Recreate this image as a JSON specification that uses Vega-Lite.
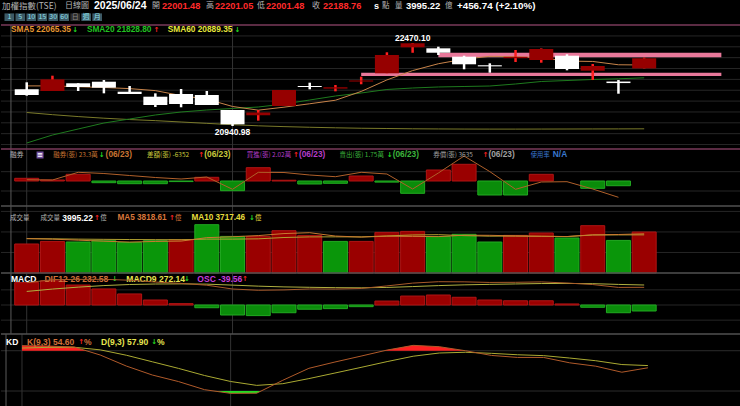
{
"$schema":"https://vega.github.io/schema/vega-lite/v6.json",
"background":"#000000",
"padding":0,
"spacing":0,
"bounds":"flush",
"config":{"view":{"stroke":null},"axis":{"disable":true},"legend":{"disable":true},"text":{"font":"Liberation Sans"},"concat":{"spacing":0}},
"datasets":{
"d":[
{"i":0,"o":21617,"h":21746,"l":21500,"c":21512,"chg":40,"s5":21680,"s20":20628,"s60":21190,"mb":3645,"ml":1755,"v":2826,"vm5":3350,"vm10":3350,"osc":148,"dif":310.8,"dea":162.8,"k":87.5,"dd":84.0},
{"i":1,"o":21586,"h":21868,"l":21586,"c":21801,"chg":289,"s5":21680,"s20":20775,"s60":21150,"mb":1350,"ml":1350,"v":3079,"vm5":3300,"vm10":3330,"osc":160,"dif":362.8,"dea":202.8,"k":87,"dd":85.0},
{"i":2,"o":21728,"h":21728,"l":21586,"c":21660,"chg":-141,"s5":21665,"s20":20886,"s60":21115,"mb":9045,"ml":11745,"v":3021,"vm5":3200,"vm10":3300,"osc":132,"dif":367.8,"dea":235.8,"k":85.5,"dd":85.2},
{"i":3,"o":21757,"h":21788,"l":21543,"c":21647,"chg":-13,"s5":21650,"s20":20996,"s60":21085,"mb":-2295,"ml":10125,"v":3147,"vm5":3100,"vm10":3280,"osc":106,"dif":368.3,"dea":262.3,"k":73.6,"dd":81.3},
{"i":4,"o":21573,"h":21678,"l":21531,"c":21531,"chg":-116,"s5":21630,"s20":21070,"s60":21060,"mb":-3645,"ml":7425,"v":2982,"vm5":3011,"vm10":3260,"osc":73,"dif":353.5,"dea":280.5,"k":57.2,"dd":73.3},
{"i":5,"o":21481,"h":21543,"l":21291,"c":21328,"chg":-203,"s5":21593,"s20":21144,"s60":21040,"mb":-3645,"ml":4725,"v":3147,"vm5":3075,"vm10":3250,"osc":33,"dif":321.8,"dea":288.8,"k":43.8,"dd":63.5},
{"i":6,"o":21531,"h":21623,"l":21286,"c":21346,"chg":18,"s5":21502,"s20":21199,"s60":21015,"mb":-800,"ml":2700,"v":3245,"vm5":3108,"vm10":3240,"osc":9,"dif":300,"dea":291,"k":34.1,"dd":53.7},
{"i":7,"o":21512,"h":21586,"l":21328,"c":21328,"chg":-18,"s5":21436,"s20":21236,"s60":20990,"mb":4995,"ml":5400,"v":4706,"vm5":3445,"vm10":3300,"osc":-18,"dif":268.5,"dea":286.5,"k":22,"dd":43.1},
{"i":8,"o":21236,"h":21236,"l":20940.98,"c":20972,"chg":-356,"s5":21301,"s20":21264,"s60":20965,"mb":-13095,"ml":-11205,"v":3566,"vm5":3529,"vm10":3300,"osc":-66,"dif":204,"dea":270,"k":16.5,"dd":34.2},
{"i":9,"o":21140,"h":21236,"l":21040,"c":21190,"chg":218,"s5":21233,"s20":21291,"s60":20945,"mb":17955,"ml":11745,"v":3566,"vm5":3646,"vm10":3329,"osc":-70,"dif":182.5,"dea":252.5,"k":16.8,"dd":28.4},
{"i":10,"o":21310,"h":21604,"l":21310,"c":21604,"chg":414,"s5":21288,"s20":21346,"s60":20930,"mb":1000,"ml":11475,"v":4122,"vm5":3841,"vm10":3458,"osc":-51,"dif":188.8,"dea":239.8,"k":36,"dd":30.9},
{"i":11,"o":21678,"h":21739,"l":21617,"c":21660,"chg":56,"s5":21351,"s20":21420,"s60":20918,"mb":-4050,"ml":8100,"v":3664,"vm5":3925,"vm10":3517,"osc":-28,"dif":204.8,"dea":232.8,"k":53.8,"dd":38.5},
{"i":12,"o":21630,"h":21696,"l":21580,"c":21655,"chg":-5,"s5":21416,"s20":21494,"s60":20908,"mb":-3105,"ml":5805,"v":3079,"vm5":3599,"vm10":3522,"osc":-24,"dif":202.8,"dea":226.8,"k":63.2,"dd":46.8},
{"i":13,"o":21760,"h":21850,"l":21710,"c":21780,"chg":125,"s5":21578,"s20":21549,"s60":20900,"mb":6750,"ml":11745,"v":3079,"vm5":3502,"vm10":3516,"osc":-11,"dif":213,"dea":224,"k":72,"dd":55.2},
{"i":14,"o":21912,"h":22299,"l":21912,"c":22249,"chg":469,"s5":21790,"s20":21614,"s60":20895,"mb":-1500,"ml":9450,"v":3956,"vm5":3580,"vm10":3613,"osc":26,"dif":256.5,"dea":230.5,"k":81,"dd":63.8},
{"i":15,"o":22391,"h":22470.1,"l":22290,"c":22465,"chg":216,"s5":21962,"s20":21641,"s60":20890,"mb":-16605,"ml":-10800,"v":4053,"vm5":3566,"vm10":3704,"osc":59,"dif":304.3,"dea":245.3,"k":88,"dd":71.8},
{"i":16,"o":22372,"h":22402,"l":22249,"c":22291,"chg":-174,"s5":22088,"s20":21660,"s60":20887,"mb":14850,"ml":10800,"v":3560,"vm5":3545,"vm10":3735,"osc":66,"dif":327.8,"dea":261.8,"k":86,"dd":76.6},
{"i":17,"o":22218,"h":22236,"l":21986,"c":22078,"chg":-213,"s5":22173,"s20":21669,"s60":20885,"mb":22545,"ml":33750,"v":3770,"vm5":3684,"vm10":3642,"osc":51,"dif":325.5,"dea":274.5,"k":80,"dd":77.7},
{"i":18,"o":22060,"h":22096,"l":21923,"c":22040,"chg":-38,"s5":22225,"s20":21678,"s60":20884,"mb":-18900,"ml":12690,"v":3020,"vm5":3672,"vm10":3587,"osc":33,"dif":315.8,"dea":282.8,"k":73,"dd":76.1},
{"i":19,"o":22190,"h":22341,"l":22120,"c":22215,"chg":175,"s5":22218,"s20":21715,"s60":20884,"mb":-18900,"ml":-11205,"v":3664,"vm5":3613,"vm10":3597,"osc":28,"dif":317.8,"dea":289.8,"k":70,"dd":74.0},
{"i":20,"o":22157,"h":22370,"l":22107,"c":22360,"chg":145,"s5":22197,"s20":21761,"s60":20885,"mb":9045,"ml":-1350,"v":3898,"vm5":3582,"vm10":3574,"osc":28,"dif":324.8,"dea":296.8,"k":70,"dd":72.7},
{"i":21,"o":22236,"h":22262,"l":21967,"c":21991,"chg":-369,"s5":22137,"s20":21779,"s60":20886,"mb":0,"ml":-945,"v":3410,"vm5":3552,"vm10":3549,"osc":7,"dif":305.5,"dea":298.5,"k":62,"dd":69.1},
{"i":22,"o":21960,"h":22083,"l":21788,"c":22046,"chg":55,"s5":22130,"s20":21798,"s60":20887,"mb":-9855,"ml":-10800,"v":4609,"vm5":3720,"vm10":3702,"osc":-15,"dif":279.8,"dea":294.8,"k":57,"dd":65.1},
{"i":23,"o":21760,"h":21788,"l":21536,"c":21732.02,"chg":-314,"s5":22069,"s20":21811,"s60":20888,"mb":-6352,"ml":-22005,"v":3177,"vm5":3752,"vm10":3712,"osc":-51,"dif":231,"dea":282,"k":48,"dd":59.4},
{"i":24,"o":22001.48,"h":22201.05,"l":22001.48,"c":22188.76,"chg":456.74,"s5":22065.35,"s20":21828.8,"s60":20889.35,"mb":null,"ml":null,"v":3995.22,"vm5":3818.61,"vm10":3717.46,"osc":-39.56,"dif":232.58,"dea":272.14,"k":54.6,"dd":57.9}
],
"kred":[{"g":"a","i":0,"k":87.5},{"g":"a","i":1,"k":87},{"g":"a","i":2,"k":85.5},{"g":"a","i":2.46,"k":80},{"g":"b","i":13.9,"k":80},{"g":"b","i":14,"k":81},{"g":"b","i":15,"k":88},{"g":"b","i":16,"k":86},{"g":"b","i":17,"k":80}],
"kgreen":[{"i":7.36,"k":20},{"i":8,"k":16.5},{"i":9,"k":16.8},{"i":9.17,"k":20}],
"vgrid":[{"i":0},{"i":8}]
},
"vconcat":[
{"width":740,"height":13,"data":{"values":[{}]},
"layer":[
{"mark":{"type":"text","align":"left","baseline":"middle","font":"Noto Sans CJK TC","fontSize":8.5,"color":"#b4b4b4"},"encoding":{"x":{"datum":1,"type":"quantitative","scale":{"domain":[0,740],"nice":false,"zero":false}},"y":{"datum":6,"type":"quantitative","scale":{"domain":[0,13],"reverse":true,"nice":false,"zero":false}},"text":{"value":"加權指數(TSE)"}}},
{"mark":{"type":"text","align":"left","baseline":"middle","font":"Noto Sans CJK TC","fontSize":8,"color":"#b4b4b4"},"encoding":{"x":{"datum":64,"type":"quantitative"},"y":{"datum":6,"type":"quantitative"},"text":{"value":"日線圖"}}},
{"mark":{"type":"text","align":"left","baseline":"middle","fontSize":10.5,"fontWeight":"bold","color":"#ffffff"},"encoding":{"x":{"datum":93,"type":"quantitative"},"y":{"datum":6,"type":"quantitative"},"text":{"value":"2025/06/24"}}},
{"mark":{"type":"text","align":"left","baseline":"middle","font":"Noto Sans CJK TC","fontSize":8,"color":"#b4b4b4"},"encoding":{"x":{"datum":151,"type":"quantitative"},"y":{"datum":6,"type":"quantitative"},"text":{"value":"開"}}},
{"mark":{"type":"text","align":"left","baseline":"middle","fontSize":9.2,"fontWeight":"bold","color":"#ff2a2a"},"encoding":{"x":{"datum":161,"type":"quantitative"},"y":{"datum":6,"type":"quantitative"},"text":{"value":"22001.48"}}},
{"mark":{"type":"text","align":"left","baseline":"middle","font":"Noto Sans CJK TC","fontSize":8,"color":"#b4b4b4"},"encoding":{"x":{"datum":205,"type":"quantitative"},"y":{"datum":6,"type":"quantitative"},"text":{"value":"高"}}},
{"mark":{"type":"text","align":"left","baseline":"middle","fontSize":9.2,"fontWeight":"bold","color":"#ff2a2a"},"encoding":{"x":{"datum":214,"type":"quantitative"},"y":{"datum":6,"type":"quantitative"},"text":{"value":"22201.05"}}},
{"mark":{"type":"text","align":"left","baseline":"middle","font":"Noto Sans CJK TC","fontSize":8,"color":"#b4b4b4"},"encoding":{"x":{"datum":256,"type":"quantitative"},"y":{"datum":6,"type":"quantitative"},"text":{"value":"低"}}},
{"mark":{"type":"text","align":"left","baseline":"middle","fontSize":9.2,"fontWeight":"bold","color":"#ff2a2a"},"encoding":{"x":{"datum":265,"type":"quantitative"},"y":{"datum":6,"type":"quantitative"},"text":{"value":"22001.48"}}},
{"mark":{"type":"text","align":"left","baseline":"middle","font":"Noto Sans CJK TC","fontSize":8,"color":"#b4b4b4"},"encoding":{"x":{"datum":311,"type":"quantitative"},"y":{"datum":6,"type":"quantitative"},"text":{"value":"收"}}},
{"mark":{"type":"text","align":"left","baseline":"middle","fontSize":9.2,"fontWeight":"bold","color":"#ff2a2a"},"encoding":{"x":{"datum":322,"type":"quantitative"},"y":{"datum":6,"type":"quantitative"},"text":{"value":"22188.76"}}},
{"mark":{"type":"text","align":"left","baseline":"middle","fontSize":9,"fontWeight":"bold","color":"#ffffff"},"encoding":{"x":{"datum":373,"type":"quantitative"},"y":{"datum":6,"type":"quantitative"},"text":{"value":"s"}}},
{"mark":{"type":"text","align":"left","baseline":"middle","font":"Noto Sans CJK TC","fontSize":7.5,"color":"#b4b4b4"},"encoding":{"x":{"datum":381,"type":"quantitative"},"y":{"datum":6,"type":"quantitative"},"text":{"value":"點"}}},
{"mark":{"type":"text","align":"left","baseline":"middle","font":"Noto Sans CJK TC","fontSize":7.5,"color":"#b4b4b4"},"encoding":{"x":{"datum":394,"type":"quantitative"},"y":{"datum":6,"type":"quantitative"},"text":{"value":"量"}}},
{"mark":{"type":"text","align":"left","baseline":"middle","fontSize":9.5,"fontWeight":"bold","color":"#ffffff"},"encoding":{"x":{"datum":405,"type":"quantitative"},"y":{"datum":6,"type":"quantitative"},"text":{"value":"3995.22"}}},
{"mark":{"type":"text","align":"left","baseline":"middle","font":"Noto Sans CJK TC","fontSize":7.5,"color":"#b4b4b4"},"encoding":{"x":{"datum":444,"type":"quantitative"},"y":{"datum":6,"type":"quantitative"},"text":{"value":"億"}}},
{"mark":{"type":"text","align":"left","baseline":"middle","fontSize":9.8,"fontWeight":"bold","color":"#ffffff"},"encoding":{"x":{"datum":456,"type":"quantitative"},"y":{"datum":6,"type":"quantitative"},"text":{"value":"+456.74 (+2.10%)"}}}
]},
{"width":101,"height":12,
"data":{"values":[{"b":"1"},{"b":"5"},{"b":"10"},{"b":"15"},{"b":"30"},{"b":"60"},{"b":"日"},{"b":"週"},{"b":"月"}]},
"layer":[
{"mark":{"type":"rect"},"encoding":{"x":{"field":"b","type":"ordinal","sort":null,"scale":{"domain":["1","5","10","15","30","60","日","週","月"],"range":[3.5,101],"paddingInner":0.12,"paddingOuter":0}},"y":{"datum":0.4,"type":"quantitative","scale":{"domain":[0,12],"reverse":true,"nice":false,"zero":false}},"y2":{"datum":8},"color":{"condition":{"test":"datum.b==='日'","value":"#2e2e2e"},"value":"#3c5a66"}}},
{"mark":{"type":"text","baseline":"middle","fontSize":7,"font":"Noto Sans CJK TC"},"encoding":{"x":{"field":"b","type":"ordinal","sort":null},"y":{"datum":4.2,"type":"quantitative"},"text":{"field":"b"},"color":{"condition":{"test":"datum.b==='日'","value":"#8a8a8a"},"value":"#8fe0ee"}}}
]},
{"width":740,"height":124,"data":{"name":"d"},
"layer":[
{"data":{"values":[{"g":20600},{"g":20800},{"g":21000},{"g":21200},{"g":21400},{"g":21600},{"g":21800},{"g":22000},{"g":22200},{"g":22400},{"g":22600}]},"mark":{"type":"rule","color":"#262626"},"encoding":{"y":{"field":"g","type":"quantitative","scale":{"domain":[20517.6,22801.7],"nice":false,"zero":false}}}},
{"data":{"name":"vgrid"},"mark":{"type":"rule","color":"#333333"},"encoding":{"x":{"field":"i","type":"quantitative","scale":{"domain":[-0.8052,27.569],"nice":false,"zero":false}}}},
{"data":{"values":[{}]},"mark":{"type":"rule","color":"#5a5a5a"},"encoding":{"x":{"datum":-0.613,"type":"quantitative"}}},
{"data":{"values":[{}]},"mark":{"type":"rule","color":"#7a3a5a","strokeWidth":1.5},"encoding":{"y":{"datum":22801.7,"type":"quantitative"}}},
{"data":{"values":[{"i":13,"i2":27,"lo":21862,"hi":21923},{"i":16,"i2":27,"lo":22207,"hi":22291}]},"mark":{"type":"rect","color":"#e8789a"},"encoding":{"x":{"field":"i","type":"quantitative"},"x2":{"field":"i2"},"y":{"field":"lo","type":"quantitative"},"y2":{"field":"hi"}}},
{"mark":{"type":"line","color":"#7a7a2a","strokeWidth":1},"encoding":{"x":{"field":"i","type":"quantitative"},"y":{"field":"s60","type":"quantitative"}}},
{"mark":{"type":"line","color":"#1e7a1e","strokeWidth":1},"encoding":{"x":{"field":"i","type":"quantitative"},"y":{"field":"s20","type":"quantitative"}}},
{"mark":{"type":"line","color":"#c8844a","strokeWidth":1},"encoding":{"x":{"field":"i","type":"quantitative"},"y":{"field":"s5","type":"quantitative"}}},
{"mark":{"type":"rule","strokeWidth":2.5},"encoding":{"x":{"field":"i","type":"quantitative"},"y":{"field":"l","type":"quantitative"},"y2":{"field":"h"},"color":{"condition":{"test":"datum.c>=datum.o","value":"#ff2020"},"value":"#ffffff"}}},
{"mark":{"type":"bar","size":24},"encoding":{"x":{"field":"i","type":"quantitative"},"y":{"field":"o","type":"quantitative"},"y2":{"field":"c"},"color":{"condition":{"test":"datum.c>=datum.o","value":"#960000"},"value":"#ffffff"}}},
{"transform":[{"filter":"datum.i===15"}],"mark":{"type":"text","dy":-5,"fontSize":8.5,"fontWeight":"bold","color":"#ffffff"},"encoding":{"x":{"field":"i","type":"quantitative"},"y":{"field":"h","type":"quantitative"},"text":{"value":"22470.10"}}},
{"transform":[{"filter":"datum.i===8"}],"mark":{"type":"text","dy":6,"fontSize":8.5,"fontWeight":"bold","color":"#ffffff"},"encoding":{"x":{"field":"i","type":"quantitative"},"y":{"field":"l","type":"quantitative"},"text":{"value":"20940.98"}}},
{"data":{"values":[{}]},"mark":{"type":"text","align":"left","baseline":"middle","fontSize":8.3,"fontWeight":"bold","color":"#e69632"},"encoding":{"x":{"datum":-0.613,"type":"quantitative"},"y":{"datum":22709,"type":"quantitative"},"text":{"value":"SMA5 22065.35"}}},
{"data":{"values":[{}]},"mark":{"type":"text","align":"left","baseline":"middle","fontSize":7,"fontWeight":"bold","font":"DejaVu Sans","color":"#22dd22"},"encoding":{"x":{"datum":1.77,"type":"quantitative"},"y":{"datum":22709,"type":"quantitative"},"text":{"value":"↓"}}},
{"data":{"values":[{}]},"mark":{"type":"text","align":"left","baseline":"middle","fontSize":8.3,"fontWeight":"bold","color":"#22c022"},"encoding":{"x":{"datum":2.339,"type":"quantitative"},"y":{"datum":22709,"type":"quantitative"},"text":{"value":"SMA20 21828.80"}}},
{"data":{"values":[{}]},"mark":{"type":"text","align":"left","baseline":"middle","fontSize":7,"fontWeight":"bold","font":"DejaVu Sans","color":"#ff2222"},"encoding":{"x":{"datum":4.93,"type":"quantitative"},"y":{"datum":22709,"type":"quantitative"},"text":{"value":"↑"}}},
{"data":{"values":[{}]},"mark":{"type":"text","align":"left","baseline":"middle","fontSize":8.3,"fontWeight":"bold","color":"#e6e63c"},"encoding":{"x":{"datum":5.483,"type":"quantitative"},"y":{"datum":22709,"type":"quantitative"},"text":{"value":"SMA60 20889.35"}}},
{"data":{"values":[{}]},"mark":{"type":"text","align":"left","baseline":"middle","fontSize":7,"fontWeight":"bold","font":"DejaVu Sans","color":"#22dd22"},"encoding":{"x":{"datum":8.08,"type":"quantitative"},"y":{"datum":22709,"type":"quantitative"},"text":{"value":"↓"}}}
]},
{"width":740,"height":57,"data":{"name":"d"},
"layer":[
{"data":{"values":[{"g":12600},{"g":-13500}]},"mark":{"type":"rule","color":"#262626"},"encoding":{"y":{"field":"g","type":"quantitative","scale":{"domain":[-33750,43200],"nice":false,"zero":false}}}},
{"data":{"name":"vgrid"},"mark":{"type":"rule","color":"#333333"},"encoding":{"x":{"field":"i","type":"quantitative","scale":{"domain":[-0.8052,27.569],"nice":false,"zero":false}}}},
{"data":{"values":[{}]},"mark":{"type":"rule","color":"#5a5a5a"},"encoding":{"x":{"datum":-0.613,"type":"quantitative"}}},
{"data":{"values":[{}]},"mark":{"type":"rule","color":"#7a3a5a","strokeWidth":1.5},"encoding":{"y":{"datum":43200,"type":"quantitative"}}},
{"transform":[{"filter":"datum.mb!=null && datum.mb!==0"}],"mark":{"type":"bar","size":24,"strokeWidth":1},"encoding":{"x":{"field":"i","type":"quantitative"},"y":{"field":"mb","type":"quantitative"},"color":{"condition":{"test":"datum.mb>=0","value":"#9a0000"},"value":"#0a8c0a"},"stroke":{"condition":{"test":"datum.mb>=0","value":"#b01414"},"value":"#22aa22"}}},
{"mark":{"type":"line","color":"#b0602a","strokeWidth":1},"encoding":{"x":{"field":"i","type":"quantitative"},"y":{"field":"ml","type":"quantitative"}}},
{"data":{"values":[{}]},"mark":{"type":"text","align":"left","baseline":"middle","font":"Noto Sans CJK TC","fontSize":6.8,"color":"#b4b4b4"},"encoding":{"x":{"datum":-0.652,"type":"quantitative"},"y":{"datum":35100,"type":"quantitative"},"text":{"value":"融券"}}},
{"data":{"values":[{}]},"mark":{"type":"point","shape":"square","size":49,"filled":true,"color":"#a070e0"},"encoding":{"x":{"datum":0.518,"type":"quantitative"},"y":{"datum":35100,"type":"quantitative"}}},
{"data":{"values":[{}]},"mark":{"type":"text","baseline":"middle","fontSize":7,"fontWeight":"bold","color":"#ffffff","font":"DejaVu Sans"},"encoding":{"x":{"datum":0.518,"type":"quantitative"},"y":{"datum":35100,"type":"quantitative"},"text":{"value":"≡"}}},
{"data":{"values":[{}]},"mark":{"type":"text","align":"left","baseline":"middle","font":"Noto Sans CJK TC","fontSize":6.5,"color":"#c87533"},"encoding":{"x":{"datum":1.035,"type":"quantitative"},"y":{"datum":35100,"type":"quantitative"},"text":{"value":"融券(張) 23.3萬"}}},
{"data":{"values":[{}]},"mark":{"type":"text","align":"left","baseline":"middle","fontSize":7,"fontWeight":"bold","font":"DejaVu Sans","color":"#22dd22"},"encoding":{"x":{"datum":2.8,"type":"quantitative"},"y":{"datum":35100,"type":"quantitative"},"text":{"value":"↓"}}},
{"data":{"values":[{}]},"mark":{"type":"text","align":"left","baseline":"middle","fontSize":8.3,"fontWeight":"bold","color":"#c87533"},"encoding":{"x":{"datum":3.067,"type":"quantitative"},"y":{"datum":35100,"type":"quantitative"},"text":{"value":"(06/23)"}}},
{"data":{"values":[{}]},"mark":{"type":"text","align":"left","baseline":"middle","font":"Noto Sans CJK TC","fontSize":6.5,"color":"#c8c83c"},"encoding":{"x":{"datum":4.678,"type":"quantitative"},"y":{"datum":35100,"type":"quantitative"},"text":{"value":"差額(張) -6352"}}},
{"data":{"values":[{}]},"mark":{"type":"text","align":"left","baseline":"middle","fontSize":7,"fontWeight":"bold","font":"DejaVu Sans","color":"#ff2222"},"encoding":{"x":{"datum":6.672,"type":"quantitative"},"y":{"datum":35100,"type":"quantitative"},"text":{"value":"↑"}}},
{"data":{"values":[{}]},"mark":{"type":"text","align":"left","baseline":"middle","fontSize":8.3,"fontWeight":"bold","color":"#c8c83c"},"encoding":{"x":{"datum":6.902,"type":"quantitative"},"y":{"datum":35100,"type":"quantitative"},"text":{"value":"(06/23)"}}},
{"data":{"values":[{}]},"mark":{"type":"text","align":"left","baseline":"middle","font":"Noto Sans CJK TC","fontSize":6.5,"color":"#b43cc8"},"encoding":{"x":{"datum":8.551,"type":"quantitative"},"y":{"datum":35100,"type":"quantitative"},"text":{"value":"買進(張) 2.02萬"}}},
{"data":{"values":[{}]},"mark":{"type":"text","align":"left","baseline":"middle","fontSize":7,"fontWeight":"bold","font":"DejaVu Sans","color":"#ff2222"},"encoding":{"x":{"datum":10.353,"type":"quantitative"},"y":{"datum":35100,"type":"quantitative"},"text":{"value":"↑"}}},
{"data":{"values":[{}]},"mark":{"type":"text","align":"left","baseline":"middle","fontSize":8.3,"fontWeight":"bold","color":"#b43cc8"},"encoding":{"x":{"datum":10.583,"type":"quantitative"},"y":{"datum":35100,"type":"quantitative"},"text":{"value":"(06/23)"}}},
{"data":{"values":[{}]},"mark":{"type":"text","align":"left","baseline":"middle","font":"Noto Sans CJK TC","fontSize":6.5,"color":"#3cb43c"},"encoding":{"x":{"datum":12.155,"type":"quantitative"},"y":{"datum":35100,"type":"quantitative"},"text":{"value":"賣出(張) 1.75萬"}}},
{"data":{"values":[{}]},"mark":{"type":"text","align":"left","baseline":"middle","fontSize":7,"fontWeight":"bold","font":"DejaVu Sans","color":"#22dd22"},"encoding":{"x":{"datum":13.995,"type":"quantitative"},"y":{"datum":35100,"type":"quantitative"},"text":{"value":"↓"}}},
{"data":{"values":[{}]},"mark":{"type":"text","align":"left","baseline":"middle","fontSize":8.3,"fontWeight":"bold","color":"#3cb43c"},"encoding":{"x":{"datum":14.225,"type":"quantitative"},"y":{"datum":35100,"type":"quantitative"},"text":{"value":"(06/23)"}}},
{"data":{"values":[{}]},"mark":{"type":"text","align":"left","baseline":"middle","font":"Noto Sans CJK TC","fontSize":6.5,"color":"#a0a0a0"},"encoding":{"x":{"datum":15.798,"type":"quantitative"},"y":{"datum":35100,"type":"quantitative"},"text":{"value":"券償(張) 3635"}}},
{"data":{"values":[{}]},"mark":{"type":"text","align":"left","baseline":"middle","fontSize":7,"fontWeight":"bold","font":"DejaVu Sans","color":"#ff2222"},"encoding":{"x":{"datum":17.715,"type":"quantitative"},"y":{"datum":35100,"type":"quantitative"},"text":{"value":"↑"}}},
{"data":{"values":[{}]},"mark":{"type":"text","align":"left","baseline":"middle","fontSize":8.3,"fontWeight":"bold","color":"#a0a0a0"},"encoding":{"x":{"datum":17.945,"type":"quantitative"},"y":{"datum":35100,"type":"quantitative"},"text":{"value":"(06/23)"}}},
{"data":{"values":[{}]},"mark":{"type":"text","align":"left","baseline":"middle","font":"Noto Sans CJK TC","fontSize":6.3,"color":"#3a78d0"},"encoding":{"x":{"datum":19.594,"type":"quantitative"},"y":{"datum":35100,"type":"quantitative"},"text":{"value":"使用率"}}},
{"data":{"values":[{}]},"mark":{"type":"text","align":"left","baseline":"middle","fontSize":8.3,"fontWeight":"bold","color":"#3a78d0"},"encoding":{"x":{"datum":20.45,"type":"quantitative"},"y":{"datum":35100,"type":"quantitative"},"text":{"value":"N/A"}}}
]},
{"width":740,"height":67,"data":{"name":"d"},
"layer":[
{"data":{"values":[{"g":2000},{"g":4000},{"g":6000}]},"mark":{"type":"rule","color":"#262626"},"encoding":{"y":{"field":"g","type":"quantitative","scale":{"domain":[0,6528],"nice":false,"zero":false}}}},
{"data":{"name":"vgrid"},"mark":{"type":"rule","color":"#333333"},"encoding":{"x":{"field":"i","type":"quantitative","scale":{"domain":[-0.8052,27.569],"nice":false,"zero":false}}}},
{"data":{"values":[{}]},"mark":{"type":"rule","color":"#5a5a5a"},"encoding":{"x":{"datum":-0.613,"type":"quantitative"}}},
{"data":{"values":[{}]},"mark":{"type":"rule","color":"#505050","strokeWidth":1.5},"encoding":{"y":{"datum":6528,"type":"quantitative"}}},
{"mark":{"type":"bar","size":24,"strokeWidth":1},"encoding":{"x":{"field":"i","type":"quantitative"},"y":{"field":"v","type":"quantitative"},"color":{"condition":{"test":"datum.chg>=0","value":"#9a0000"},"value":"#0a960a"},"stroke":{"condition":{"test":"datum.chg>=0","value":"#b01414"},"value":"#22aa22"}}},
{"mark":{"type":"line","color":"#b0a030","strokeWidth":1},"encoding":{"x":{"field":"i","type":"quantitative"},"y":{"field":"vm10","type":"quantitative"}}},
{"mark":{"type":"line","color":"#c87a30","strokeWidth":1},"encoding":{"x":{"field":"i","type":"quantitative"},"y":{"field":"vm5","type":"quantitative"}}},
{"data":{"values":[{}]},"mark":{"type":"text","align":"left","baseline":"middle","font":"Noto Sans CJK TC","fontSize":6.5,"color":"#b4b4b4"},"encoding":{"x":{"datum":-0.652,"type":"quantitative"},"y":{"datum":5388,"type":"quantitative"},"text":{"value":"成交量"}}},
{"data":{"values":[{}]},"mark":{"type":"text","align":"left","baseline":"middle","font":"Noto Sans CJK TC","fontSize":6.5,"color":"#b4b4b4"},"encoding":{"x":{"datum":0.537,"type":"quantitative"},"y":{"datum":5388,"type":"quantitative"},"text":{"value":"成交量"}}},
{"data":{"values":[{}]},"mark":{"type":"text","align":"left","baseline":"middle","fontSize":8.5,"fontWeight":"bold","color":"#ffffff"},"encoding":{"x":{"datum":1.38,"type":"quantitative"},"y":{"datum":5388,"type":"quantitative"},"text":{"value":"3995.22"}}},
{"data":{"values":[{}]},"mark":{"type":"text","align":"left","baseline":"middle","fontSize":7,"fontWeight":"bold","font":"DejaVu Sans","color":"#ff2222"},"encoding":{"x":{"datum":2.62,"type":"quantitative"},"y":{"datum":5388,"type":"quantitative"},"text":{"value":"↑"}}},
{"data":{"values":[{}]},"mark":{"type":"text","align":"left","baseline":"middle","font":"Noto Sans CJK TC","fontSize":6.5,"color":"#b4b4b4"},"encoding":{"x":{"datum":2.86,"type":"quantitative"},"y":{"datum":5388,"type":"quantitative"},"text":{"value":"億"}}},
{"data":{"values":[{}]},"mark":{"type":"text","align":"left","baseline":"middle","fontSize":8.2,"fontWeight":"bold","color":"#d8763a"},"encoding":{"x":{"datum":3.528,"type":"quantitative"},"y":{"datum":5388,"type":"quantitative"},"text":{"value":"MA5 3818.61"}}},
{"data":{"values":[{}]},"mark":{"type":"text","align":"left","baseline":"middle","fontSize":7,"fontWeight":"bold","font":"DejaVu Sans","color":"#ff2222"},"encoding":{"x":{"datum":5.53,"type":"quantitative"},"y":{"datum":5388,"type":"quantitative"},"text":{"value":"↑"}}},
{"data":{"values":[{}]},"mark":{"type":"text","align":"left","baseline":"middle","font":"Noto Sans CJK TC","fontSize":6.5,"color":"#d8763a"},"encoding":{"x":{"datum":5.76,"type":"quantitative"},"y":{"datum":5388,"type":"quantitative"},"text":{"value":"億"}}},
{"data":{"values":[{}]},"mark":{"type":"text","align":"left","baseline":"middle","fontSize":8.2,"fontWeight":"bold","color":"#e6dc3c"},"encoding":{"x":{"datum":6.403,"type":"quantitative"},"y":{"datum":5388,"type":"quantitative"},"text":{"value":"MA10 3717.46"}}},
{"data":{"values":[{}]},"mark":{"type":"text","align":"left","baseline":"middle","fontSize":7,"fontWeight":"bold","font":"DejaVu Sans","color":"#22dd22"},"encoding":{"x":{"datum":8.64,"type":"quantitative"},"y":{"datum":5388,"type":"quantitative"},"text":{"value":"↓"}}},
{"data":{"values":[{}]},"mark":{"type":"text","align":"left","baseline":"middle","font":"Noto Sans CJK TC","fontSize":6.5,"color":"#e6dc3c"},"encoding":{"x":{"datum":8.87,"type":"quantitative"},"y":{"datum":5388,"type":"quantitative"},"text":{"value":"億"}}}
]},
{"width":740,"height":61,"data":{"name":"d"},
"resolve":{"scale":{"y":"independent"}},
"layer":[
{"layer":[
{"data":{"values":[{"g":-100},{"g":0},{"g":100}]},"mark":{"type":"rule","color":"#262626"},"encoding":{"y":{"field":"g","type":"quantitative","scale":{"domain":[-191.4,211.2],"nice":false,"zero":false}}}},
{"data":{"name":"vgrid"},"mark":{"type":"rule","color":"#333333"},"encoding":{"x":{"field":"i","type":"quantitative","scale":{"domain":[-0.8052,27.569],"nice":false,"zero":false}}}},
{"data":{"values":[{}]},"mark":{"type":"rule","color":"#5a5a5a"},"encoding":{"x":{"datum":-0.613,"type":"quantitative"}}},
{"data":{"values":[{}]},"mark":{"type":"rule","color":"#505050","strokeWidth":1.5},"encoding":{"y":{"datum":211.2,"type":"quantitative"}}},
{"mark":{"type":"bar","size":24,"strokeWidth":1},"encoding":{"x":{"field":"i","type":"quantitative"},"y":{"field":"osc","type":"quantitative"},"color":{"condition":{"test":"datum.osc>=0","value":"#9a0000"},"value":"#0a8c0a"},"stroke":{"condition":{"test":"datum.osc>=0","value":"#b01414"},"value":"#22aa22"}}},
{"data":{"values":[{}]},"mark":{"type":"text","align":"left","baseline":"middle","fontSize":8.5,"fontWeight":"bold","color":"#ffffff"},"encoding":{"x":{"datum":-0.613,"type":"quantitative"},"y":{"datum":169.6,"type":"quantitative"},"text":{"value":"MACD"}}},
{"data":{"values":[{}]},"mark":{"type":"text","align":"left","baseline":"middle","fontSize":8.5,"fontWeight":"bold","color":"#d0703a"},"encoding":{"x":{"datum":0.69,"type":"quantitative"},"y":{"datum":169.6,"type":"quantitative"},"text":{"value":"DIF12-26 232.58"}}},
{"data":{"values":[{}]},"mark":{"type":"text","align":"left","baseline":"middle","fontSize":7,"fontWeight":"bold","font":"DejaVu Sans","color":"#22dd22"},"encoding":{"x":{"datum":3.31,"type":"quantitative"},"y":{"datum":169.6,"type":"quantitative"},"text":{"value":"↓"}}},
{"data":{"values":[{}]},"mark":{"type":"text","align":"left","baseline":"middle","fontSize":8.5,"fontWeight":"bold","color":"#e6e650"},"encoding":{"x":{"datum":3.873,"type":"quantitative"},"y":{"datum":169.6,"type":"quantitative"},"text":{"value":"MACD9 272.14"}}},
{"data":{"values":[{}]},"mark":{"type":"text","align":"left","baseline":"middle","fontSize":7,"fontWeight":"bold","font":"DejaVu Sans","color":"#22dd22"},"encoding":{"x":{"datum":6.11,"type":"quantitative"},"y":{"datum":169.6,"type":"quantitative"},"text":{"value":"↓"}}},
{"data":{"values":[{}]},"mark":{"type":"text","align":"left","baseline":"middle","fontSize":8.5,"fontWeight":"bold","color":"#c83cdc"},"encoding":{"x":{"datum":6.633,"type":"quantitative"},"y":{"datum":169.6,"type":"quantitative"},"text":{"value":"OSC -39.56"}}},
{"data":{"values":[{}]},"mark":{"type":"text","align":"left","baseline":"middle","fontSize":7,"fontWeight":"bold","font":"DejaVu Sans","color":"#ff2222"},"encoding":{"x":{"datum":8.37,"type":"quantitative"},"y":{"datum":169.6,"type":"quantitative"},"text":{"value":"↑"}}}
]},
{"layer":[
{"mark":{"type":"line","color":"#b0b040","strokeWidth":1},"encoding":{"x":{"field":"i","type":"quantitative"},"y":{"field":"dea","type":"quantitative","scale":{"domain":[-561,476],"nice":false,"zero":false}}}},
{"mark":{"type":"line","color":"#a85a2a","strokeWidth":1},"encoding":{"x":{"field":"i","type":"quantitative"},"y":{"field":"dif","type":"quantitative"}}}
]}
]},
{"width":740,"height":72,"data":{"name":"d"},
"layer":[
{"data":{"values":[{"g":20},{"g":80}]},"mark":{"type":"rule","color":"#2c2c2c"},"encoding":{"y":{"field":"g","type":"quantitative","scale":{"domain":[-2.3,104.9],"nice":false,"zero":false}}}},
{"data":{"name":"vgrid"},"mark":{"type":"rule","color":"#333333"},"encoding":{"x":{"field":"i","type":"quantitative","scale":{"domain":[-0.8052,27.569],"nice":false,"zero":false}}}},
{"data":{"values":[{}]},"mark":{"type":"rule","color":"#5a5a5a"},"encoding":{"x":{"datum":-0.613,"type":"quantitative"}}},
{"data":{"values":[{}]},"mark":{"type":"rule","color":"#505050","strokeWidth":1.5},"encoding":{"y":{"datum":104.9,"type":"quantitative"}}},
{"data":{"name":"kred"},"mark":{"type":"area","color":"#ff2020"},"encoding":{"x":{"field":"i","type":"quantitative"},"y":{"field":"k","type":"quantitative"},"y2":{"datum":80},"detail":{"field":"g"}}},
{"data":{"name":"kgreen"},"mark":{"type":"area","color":"#22dd22"},"encoding":{"x":{"field":"i","type":"quantitative"},"y":{"field":"k","type":"quantitative"},"y2":{"datum":20}}},
{"mark":{"type":"line","color":"#aaaa32","strokeWidth":1},"encoding":{"x":{"field":"i","type":"quantitative"},"y":{"field":"dd","type":"quantitative"}}},
{"mark":{"type":"line","color":"#b05a2a","strokeWidth":1},"encoding":{"x":{"field":"i","type":"quantitative"},"y":{"field":"k","type":"quantitative"}}},
{"data":{"values":[{}]},"mark":{"type":"text","align":"left","baseline":"middle","fontSize":8.5,"fontWeight":"bold","color":"#ffffff"},"encoding":{"x":{"datum":-0.613,"type":"quantitative"},"y":{"datum":93.4,"type":"quantitative"},"text":{"value":"KD"}}},
{"data":{"values":[{}]},"mark":{"type":"text","align":"left","baseline":"middle","fontSize":8.5,"fontWeight":"bold","color":"#d0703a"},"encoding":{"x":{"datum":0.192,"type":"quantitative"},"y":{"datum":93.4,"type":"quantitative"},"text":{"value":"K(9,3) 54.60"}}},
{"data":{"values":[{}]},"mark":{"type":"text","align":"left","baseline":"middle","fontSize":7,"fontWeight":"bold","font":"DejaVu Sans","color":"#ff2222"},"encoding":{"x":{"datum":2.16,"type":"quantitative"},"y":{"datum":93.4,"type":"quantitative"},"text":{"value":"↑"}}},
{"data":{"values":[{}]},"mark":{"type":"text","align":"left","baseline":"middle","fontSize":8.5,"fontWeight":"bold","color":"#d0703a"},"encoding":{"x":{"datum":2.38,"type":"quantitative"},"y":{"datum":93.4,"type":"quantitative"},"text":{"value":"%"}}},
{"data":{"values":[{}]},"mark":{"type":"text","align":"left","baseline":"middle","fontSize":8.5,"fontWeight":"bold","color":"#e6e650"},"encoding":{"x":{"datum":3.029,"type":"quantitative"},"y":{"datum":93.4,"type":"quantitative"},"text":{"value":"D(9,3) 57.90"}}},
{"data":{"values":[{}]},"mark":{"type":"text","align":"left","baseline":"middle","fontSize":7,"fontWeight":"bold","font":"DejaVu Sans","color":"#22dd22"},"encoding":{"x":{"datum":4.96,"type":"quantitative"},"y":{"datum":93.4,"type":"quantitative"},"text":{"value":"↓"}}},
{"data":{"values":[{}]},"mark":{"type":"text","align":"left","baseline":"middle","fontSize":8.5,"fontWeight":"bold","color":"#e6e650"},"encoding":{"x":{"datum":5.18,"type":"quantitative"},"y":{"datum":93.4,"type":"quantitative"},"text":{"value":"%"}}}
]}
]
}
